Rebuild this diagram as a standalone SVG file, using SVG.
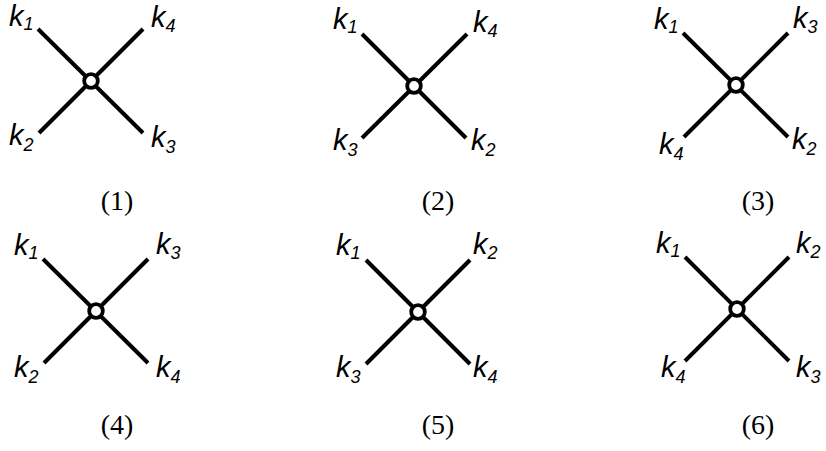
<svg xmlns="http://www.w3.org/2000/svg" width="826" height="451" viewBox="0 0 826 451">
<style>
.ln{stroke:#000;stroke-width:4;stroke-linecap:butt;fill:none}
.v{fill:#fff;stroke:#000;stroke-width:3.8}
.k{font-family:"Liberation Sans","DejaVu Sans",sans-serif;font-style:italic;font-size:29px;fill:#000}
.s{font-size:18px}
.cap{font-family:"Liberation Serif","DejaVu Serif",serif;font-size:28px;fill:#000;text-anchor:middle}
</style>
<rect width="826" height="451" fill="#fff"/>
<g id="connectors">
<line class="ln" x1="38" y1="29" x2="143" y2="133"/>
<line class="ln" x1="143" y1="29" x2="39" y2="133"/>
<line class="ln" x1="362" y1="34" x2="466" y2="138"/>
<line class="ln" x1="467" y1="34" x2="362" y2="138"/>
<line class="ln" x1="683" y1="33" x2="788" y2="137"/>
<line class="ln" x1="788" y1="33" x2="684" y2="137"/>
<line class="ln" x1="43" y1="259" x2="148" y2="363"/>
<line class="ln" x1="148" y1="259" x2="44" y2="363"/>
<line class="ln" x1="366" y1="260" x2="470" y2="364"/>
<line class="ln" x1="470" y1="260" x2="366" y2="364"/>
<line class="ln" x1="685" y1="257" x2="789" y2="361"/>
<line class="ln" x1="789" y1="257" x2="685" y2="361"/>
</g>
<g id="panel1">
<circle class="v" cx="91" cy="81" r="6.8"/>
<text class="k" x="9" y="26">k<tspan class="s" dy="4">1</tspan></text>
<text class="k" x="151" y="27">k<tspan class="s" dy="5">4</tspan></text>
<text class="k" x="9" y="145">k<tspan class="s" dy="6">2</tspan></text>
<text class="k" x="151" y="147">k<tspan class="s" dy="6">3</tspan></text>
<text class="cap" x="117" y="210">(1)</text>
</g>
<g id="panel2">
<circle class="v" cx="414" cy="86" r="6.8"/>
<text class="k" x="333" y="29">k<tspan class="s" dy="4">1</tspan></text>
<text class="k" x="473" y="32">k<tspan class="s" dy="5">4</tspan></text>
<text class="k" x="333" y="150">k<tspan class="s" dy="6">3</tspan></text>
<text class="k" x="471" y="150">k<tspan class="s" dy="6">2</tspan></text>
<text class="cap" x="438" y="210">(2)</text>
</g>
<g id="panel3">
<circle class="v" cx="736" cy="85" r="6.8"/>
<text class="k" x="654" y="29">k<tspan class="s" dy="4">1</tspan></text>
<text class="k" x="793" y="28">k<tspan class="s" dy="5">3</tspan></text>
<text class="k" x="659" y="154">k<tspan class="s" dy="6">4</tspan></text>
<text class="k" x="792" y="149">k<tspan class="s" dy="6">2</tspan></text>
<text class="cap" x="758" y="210">(3)</text>
</g>
<g id="panel4">
<circle class="v" cx="96" cy="311" r="6.8"/>
<text class="k" x="14" y="255">k<tspan class="s" dy="4">1</tspan></text>
<text class="k" x="156" y="254">k<tspan class="s" dy="5">3</tspan></text>
<text class="k" x="14" y="377">k<tspan class="s" dy="6">2</tspan></text>
<text class="k" x="156" y="377">k<tspan class="s" dy="6">4</tspan></text>
<text class="cap" x="117" y="434">(4)</text>
</g>
<g id="panel5">
<circle class="v" cx="418" cy="312" r="6.8"/>
<text class="k" x="336" y="255">k<tspan class="s" dy="4">1</tspan></text>
<text class="k" x="473" y="254">k<tspan class="s" dy="5">2</tspan></text>
<text class="k" x="336" y="377">k<tspan class="s" dy="6">3</tspan></text>
<text class="k" x="473" y="377">k<tspan class="s" dy="6">4</tspan></text>
<text class="cap" x="438" y="434">(5)</text>
</g>
<g id="panel6">
<circle class="v" cx="737" cy="309" r="6.8"/>
<text class="k" x="656" y="253">k<tspan class="s" dy="4">1</tspan></text>
<text class="k" x="796" y="253">k<tspan class="s" dy="5">2</tspan></text>
<text class="k" x="661" y="377">k<tspan class="s" dy="6">4</tspan></text>
<text class="k" x="796" y="377">k<tspan class="s" dy="6">3</tspan></text>
<text class="cap" x="758" y="434">(6)</text>
</g>
</svg>
